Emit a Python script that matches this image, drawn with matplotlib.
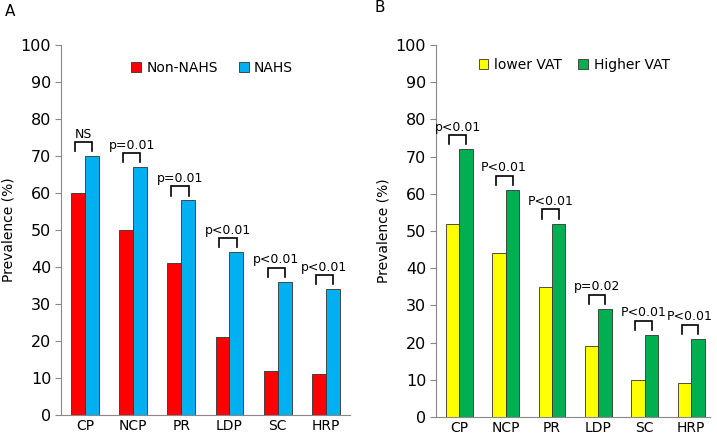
import numpy as np
import matplotlib
matplotlib.use("Agg")
import matplotlib.pyplot as plt

plt.rcParams['font.family'] = ['DejaVu Sans']

categories = ["CP", "NCP", "PR", "LDP", "SC", "HRP"]

# Panel A
non_nahs = [60, 50, 41, 21, 12, 11]
nahs = [70, 67, 58, 44, 36, 34]
labels_a = ["NS", "p=0.01", "p=0.01", "p<0.01", "p<0.01", "p<0.01"]

# Panel B
lower_vat = [52, 44, 35, 19, 10, 9]
higher_vat = [72, 61, 52, 29, 22, 21]
labels_b = ["p<0.01", "P<0.01", "P<0.01", "p=0.02", "P<0.01", "P<0.01"]

fig = plt.figure(figsize=(7.17, 4.37), dpi=100)
axA = fig.add_axes([0.085, 0.050, 0.403, 0.847])
axB = fig.add_axes([0.608, 0.046, 0.382, 0.851])


def draw_panel(ax, s1, s2, c1, c2, n1, n2, pl, xmax, leg_pos, colsp):
    x = np.arange(len(categories))
    w = 0.29
    ax.bar(x - w / 2, s1, w, color=c1, edgecolor='#333333', linewidth=0.6, label=n1)
    ax.bar(x + w / 2, s2, w, color=c2, edgecolor='#333333', linewidth=0.6, label=n2)
    for xi, top, txt in zip(x, s2, pl):
        bx0, bx1 = xi - 0.21, xi + 0.15
        ax.plot([bx0, bx0, bx1, bx1], [top + 1.3, top + 3.8, top + 3.8, top + 1.3],
                color='black', lw=1.2, solid_joinstyle='miter')
        ax.text(xi - 0.03, top + 5.0, txt, ha='center', va='baseline', fontsize=9)
    ax.set_xlim(-0.5, xmax)
    ax.set_ylim(0, 100)
    ax.set_yticks(range(0, 101, 10))
    ax.set_xticks(x)
    ax.set_xticklabels(categories, fontsize=10)
    ax.tick_params(axis='x', length=0, pad=3)
    ax.tick_params(axis='y', labelsize=11.5, length=4, color='#888888', pad=3)
    for s in ['top', 'right']:
        ax.spines[s].set_visible(False)
    for s in ['left', 'bottom']:
        ax.spines[s].set_color('#888888')
    ax.set_ylabel("Prevalence (%)", fontsize=10, labelpad=4)
    ax.legend(loc='upper left', bbox_to_anchor=leg_pos, ncol=2, frameon=False,
              fontsize=10, handlelength=0.7, handleheight=0.7, handletextpad=0.4,
              columnspacing=colsp)


draw_panel(axA, non_nahs, nahs, '#FF0000', '#00B0F0', 'Non-NAHS', 'NAHS',
           labels_a, 5.5, (0.20, 0.99), 1.5)
draw_panel(axB, lower_vat, higher_vat, '#FFFF00', '#00B050', 'lower VAT', 'Higher VAT',
           labels_b, 5.4, (0.11, 1.0), 1.2)

fig.text(5 / 717, 1 - 12 / 437, "A", fontsize=11, va='center', ha='left')
fig.text(375 / 717, 1 - 8 / 437, "B", fontsize=11, va='center', ha='left')

fig.savefig("out.png", dpi=100)
